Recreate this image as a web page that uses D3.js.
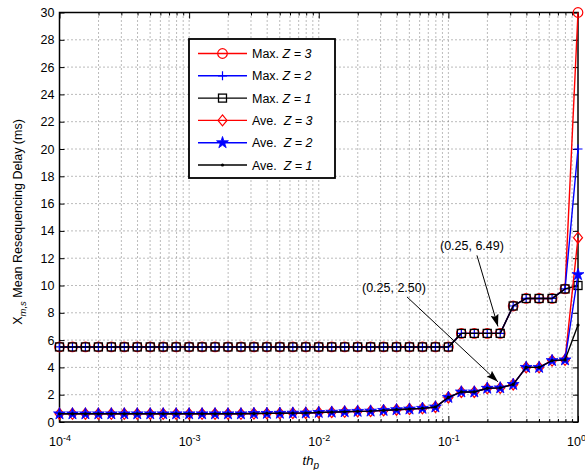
<!DOCTYPE html>
<html>
<head>
<meta charset="utf-8">
<script src="https://cdn.jsdelivr.net/npm/d3@7"></script>
<style>
  body { margin: 0; background: #fff; }
  svg { font-family: Arial, 'Liberation Sans', Helvetica, sans-serif; }
  .grid line { stroke: #555; stroke-width: 0.8; stroke-dasharray: 1,3; }
  .axis path { display: none; }
  .axis line { stroke: #000; }
  .axis text { font-size: 12.5px; fill: #000; }
</style>
</head>
<body>
<svg width="585" height="470"></svg>
<script>
// x values (th_p), 41 log-spaced points
var thP = [0.0001, 0.0001259, 0.0001585, 0.0001995, 0.0002512, 0.0003162, 0.0003981, 0.0005012, 0.0006310, 0.0007943,
  0.001, 0.001259, 0.001585, 0.001995, 0.002512, 0.003162, 0.003981, 0.005012, 0.006310, 0.007943,
  0.01, 0.01259, 0.01585, 0.01995, 0.02512, 0.03162, 0.03981, 0.05012, 0.06310, 0.07943,
  0.1, 0.1259, 0.1585, 0.1995, 0.2512, 0.3162, 0.3981, 0.5012, 0.6310, 0.7943, 1.0];

var maxZ3 = [5.5, 5.5, 5.5, 5.5, 5.5, 5.5, 5.5, 5.5, 5.5, 5.5, 5.5, 5.5, 5.5, 5.5, 5.5, 5.5, 5.5, 5.5, 5.5, 5.5,
  5.5, 5.5, 5.5, 5.5, 5.5, 5.5, 5.5, 5.5, 5.5, 5.5, 5.5, 6.49, 6.49, 6.49, 6.49, 8.5, 9.05, 9.05, 9.05, 9.75, 30];
var maxZ2 = [5.5, 5.5, 5.5, 5.5, 5.5, 5.5, 5.5, 5.5, 5.5, 5.5, 5.5, 5.5, 5.5, 5.5, 5.5, 5.5, 5.5, 5.5, 5.5, 5.5,
  5.5, 5.5, 5.5, 5.5, 5.5, 5.5, 5.5, 5.5, 5.5, 5.5, 5.5, 6.49, 6.49, 6.49, 6.49, 8.5, 9.05, 9.05, 9.05, 9.75, 20];
var maxZ1 = [5.5, 5.5, 5.5, 5.5, 5.5, 5.5, 5.5, 5.5, 5.5, 5.5, 5.5, 5.5, 5.5, 5.5, 5.5, 5.5, 5.5, 5.5, 5.5, 5.5,
  5.5, 5.5, 5.5, 5.5, 5.5, 5.5, 5.5, 5.5, 5.5, 5.5, 5.5, 6.49, 6.49, 6.49, 6.49, 8.5, 9.05, 9.05, 9.05, 9.75, 10];
var aveZ3 = [0.6, 0.6, 0.6, 0.6, 0.6, 0.6, 0.6, 0.6, 0.6, 0.6, 0.6, 0.6, 0.6, 0.6, 0.6, 0.62, 0.63, 0.64, 0.65, 0.66,
  0.7, 0.72, 0.75, 0.78, 0.8, 0.85, 0.9, 0.95, 1.0, 1.1, 1.8, 2.2, 2.2, 2.47, 2.5, 2.75, 4.0, 4.0, 4.5, 4.55, 13.5];
var aveZ2 = [0.6, 0.6, 0.6, 0.6, 0.6, 0.6, 0.6, 0.6, 0.6, 0.6, 0.6, 0.6, 0.6, 0.6, 0.6, 0.62, 0.63, 0.64, 0.65, 0.66,
  0.7, 0.72, 0.75, 0.78, 0.8, 0.85, 0.9, 0.95, 1.0, 1.1, 1.8, 2.2, 2.2, 2.47, 2.5, 2.75, 4.0, 4.0, 4.5, 4.55, 10.8];
var aveZ1 = [0.6, 0.6, 0.6, 0.6, 0.6, 0.6, 0.6, 0.6, 0.6, 0.6, 0.6, 0.6, 0.6, 0.6, 0.6, 0.62, 0.63, 0.64, 0.65, 0.66,
  0.7, 0.72, 0.75, 0.78, 0.8, 0.85, 0.9, 0.95, 1.0, 1.1, 1.8, 2.2, 2.2, 2.47, 2.5, 2.75, 4.0, 4.0, 4.5, 4.55, 7.1];

var seriesNames = ['Max.', 'Max.', 'Max.', 'Ave.', 'Ave.', 'Ave.'];
var seriesZ = ['3', '2', '1', '3', '2', '1'];
var xTickPowers = [-4, -3, -2, -1, 0];
var yTicks = [0, 2, 4, 6, 8, 10, 12, 14, 16, 18, 20, 22, 24, 26, 28, 30];
var annoX = [0.25, 0.25];
var annoY = [6.49, 2.50];
var annoText = ['(0.25, 6.49)', '(0.25, 2.50)'];

var svg = d3.select('svg');
var margin = {top: 12.5, right: 7, bottom: 48, left: 59.5};
var width = +svg.attr('width') - margin.left - margin.right;
var height = +svg.attr('height') - margin.top - margin.bottom;
var g = svg.append('g')
    .attr('transform', 'translate(' + margin.left + ',' + margin.top + ')');

var x = d3.scaleLog().domain([1e-4, 1]).range([0, width]);
var y = d3.scaleLinear().domain([0, 30]).range([height, 0]);

var allXTicks = x.ticks();
var majorX = xTickPowers.map(function(p) { return Math.pow(10, p); });
var minorX = allXTicks.filter(function(t) { return majorX.indexOf(t) < 0 && t < 1; });

// grid
g.append('g').attr('class', 'grid')
  .selectAll('line').data(allXTicks.filter(function(t) { return t > 1e-4 && t < 1; }))
  .enter().append('line')
  .attr('x1', function(d) { return x(d); }).attr('x2', function(d) { return x(d); })
  .attr('y1', 0).attr('y2', height);
g.append('g').attr('class', 'grid')
  .selectAll('line').data(yTicks.slice(1, -1))
  .enter().append('line')
  .attr('x1', 0).attr('x2', width)
  .attr('y1', function(d) { return y(d); }).attr('y2', function(d) { return y(d); });

// axes, ticks inside
g.append('g').attr('class', 'axis')
  .attr('transform', 'translate(0,' + height + ')')
  .call(d3.axisBottom(x).tickValues(minorX).tickSize(-3).tickFormat(''));
g.append('g').attr('class', 'axis')
  .call(d3.axisTop(x).tickValues(minorX).tickSize(-3).tickFormat(''));
g.append('g').attr('class', 'axis')
  .call(d3.axisTop(x).tickValues(majorX).tickSize(-6).tickFormat(''));
var xAxis = g.append('g').attr('class', 'axis axis--x')
  .attr('transform', 'translate(0,' + height + ')')
  .call(d3.axisBottom(x).tickValues(majorX).tickSize(-6).tickPadding(15).tickFormat(''));
xAxis.selectAll('.tick').each(function(d, i) {
  var t = d3.select(this).select('text').attr('text-anchor', 'middle');
  // last label sits at the canvas edge, pull it in so it stays visible
  if (i === xTickPowers.length - 1) t.attr('text-anchor', 'end').attr('x', 7.5);
  t.append('tspan').text('10');
  t.append('tspan').attr('dy', -5).attr('font-size', '9px').text(xTickPowers[i]);
});
g.append('g').attr('class', 'axis axis--y')
  .call(d3.axisLeft(y).tickValues(yTicks).tickSize(-5).tickPadding(5));
g.append('g').attr('class', 'axis')
  .attr('transform', 'translate(' + width + ',0)')
  .call(d3.axisRight(y).tickValues(yTicks).tickSize(-5).tickFormat(''));

// frame
g.append('rect')
  .attr('width', width).attr('height', height)
  .attr('fill', 'none').attr('stroke', '#000').attr('stroke-width', 1.5);

// series
var series = [
  {values: maxZ3, color: '#ff0000', marker: 'circle'},
  {values: maxZ2, color: '#0000ff', marker: 'plus'},
  {values: maxZ1, color: '#000000', marker: 'square'},
  {values: aveZ3, color: '#ff0000', marker: 'diamond'},
  {values: aveZ2, color: '#0000ff', marker: 'star'},
  {values: aveZ1, color: '#000000', marker: 'dot'}
];

function drawMarker(sel, type, color) {
  if (type === 'circle') {
    sel.append('circle').attr('r', 4.8).attr('fill', 'none').attr('stroke', color).attr('stroke-width', 1.2);
  } else if (type === 'plus') {
    sel.append('path').attr('d', 'M-4.5,0H4.5M0,-4.5V4.5').attr('stroke', color).attr('stroke-width', 1.2);
  } else if (type === 'square') {
    sel.append('rect').attr('x', -4).attr('y', -4).attr('width', 8).attr('height', 8)
      .attr('fill', 'none').attr('stroke', color).attr('stroke-width', 1.3);
  } else if (type === 'diamond') {
    sel.append('path').attr('d', 'M0,-5.5L4.5,0L0,5.5L-4.5,0Z').attr('fill', 'none').attr('stroke', color).attr('stroke-width', 1.2);
  } else if (type === 'star') {
    sel.append('path').attr('d', d3.symbol().type(d3.symbolStar).size(44)())
      .attr('fill', color).attr('stroke', color).attr('stroke-width', 0.8);
  } else {
    sel.append('circle').attr('r', 1.6).attr('fill', color);
  }
}

var line = d3.line()
  .x(function(d, i) { return x(thP[i]); })
  .y(function(d) { return y(d); });

series.forEach(function(s) {
  var sg = g.append('g');
  sg.append('path')
    .attr('d', line(s.values))
    .attr('fill', 'none').attr('stroke', s.color).attr('stroke-width', 1.4);
  sg.selectAll('g.m').data(s.values).enter().append('g')
    .attr('class', 'm')
    .attr('transform', function(d, i) { return 'translate(' + x(thP[i]) + ',' + y(d) + ')'; })
    .each(function() { drawMarker(d3.select(this), s.marker, s.color); });
});

// annotations
svg.append('defs').append('marker')
  .attr('id', 'arrow').attr('viewBox', '0 0 12 8')
  .attr('refX', 12).attr('refY', 4)
  .attr('markerWidth', 12).attr('markerHeight', 8)
  .attr('markerUnits', 'userSpaceOnUse')
  .attr('orient', 'auto')
  .append('path').attr('d', 'M0,0L12,4L0,8L2,4Z').attr('fill', '#000');

var annoOffsets = [{tipDx: -2, tipDy: -7, startDx: -23, startDy: -78, textDx: -28, textDy: -83},
  {tipDx: -2, tipDy: -6, startDx: -93, startDy: -91, textDx: -106, textDy: -96}];
annoX.forEach(function(ax, i) {
  var px = x(ax), py = y(annoY[i]), o = annoOffsets[i];
  g.append('line')
    .attr('x1', px + o.startDx).attr('y1', py + o.startDy)
    .attr('x2', px + o.tipDx).attr('y2', py + o.tipDy)
    .attr('stroke', '#000').attr('stroke-width', 1)
    .attr('marker-end', 'url(#arrow)');
  g.append('text')
    .attr('x', px + o.textDx).attr('y', py + o.textDy)
    .attr('text-anchor', 'middle').attr('font-size', '12.5px')
    .text(annoText[i]);
});

// legend
var legend = g.append('g').attr('transform', 'translate(' + (189 - margin.left) + ',' + (39 - margin.top) + ')');
legend.append('rect').attr('width', 146).attr('height', 139)
  .attr('fill', '#fff').attr('stroke', '#000').attr('stroke-width', 1.8);
series.forEach(function(s, i) {
  var row = legend.append('g').attr('transform', 'translate(0,' + (14.5 + i * 22.3) + ')');
  row.append('line').attr('x1', 9).attr('x2', 58).attr('stroke', s.color).attr('stroke-width', 1.4);
  drawMarker(row.append('g').attr('transform', 'translate(33.5,0)'), s.marker, s.color);
  var t = row.append('text').attr('x', 63).attr('y', 4.5).attr('font-size', '12.5px');
  t.append('tspan').text(seriesNames[i] + (seriesNames[i] === 'Ave.' ? '\u00a0 ' : ' '));
  t.append('tspan').attr('font-style', 'italic').text('Z = ' + seriesZ[i]);
});

// axis labels
var xl = svg.append('text')
  .attr('x', margin.left + width / 2 - 8).attr('y', 465)
  .attr('text-anchor', 'middle').attr('font-size', '13px').attr('font-style', 'italic');
xl.append('tspan').text('th');
xl.append('tspan').attr('dy', 4).attr('font-size', '10px').text('p');

var yl = svg.append('text')
  .attr('transform', 'translate(22,' + 222 + ') rotate(-90)')
  .attr('text-anchor', 'middle').attr('font-size', '12.5px');
yl.append('tspan').text('X');
yl.append('tspan').attr('dy', 4).attr('font-size', '9.5px').attr('font-style', 'italic').text('m,s');
yl.append('tspan').attr('dy', -4).text(' Mean Resequencing Delay (ms)');
</script>
</body>
</html>
